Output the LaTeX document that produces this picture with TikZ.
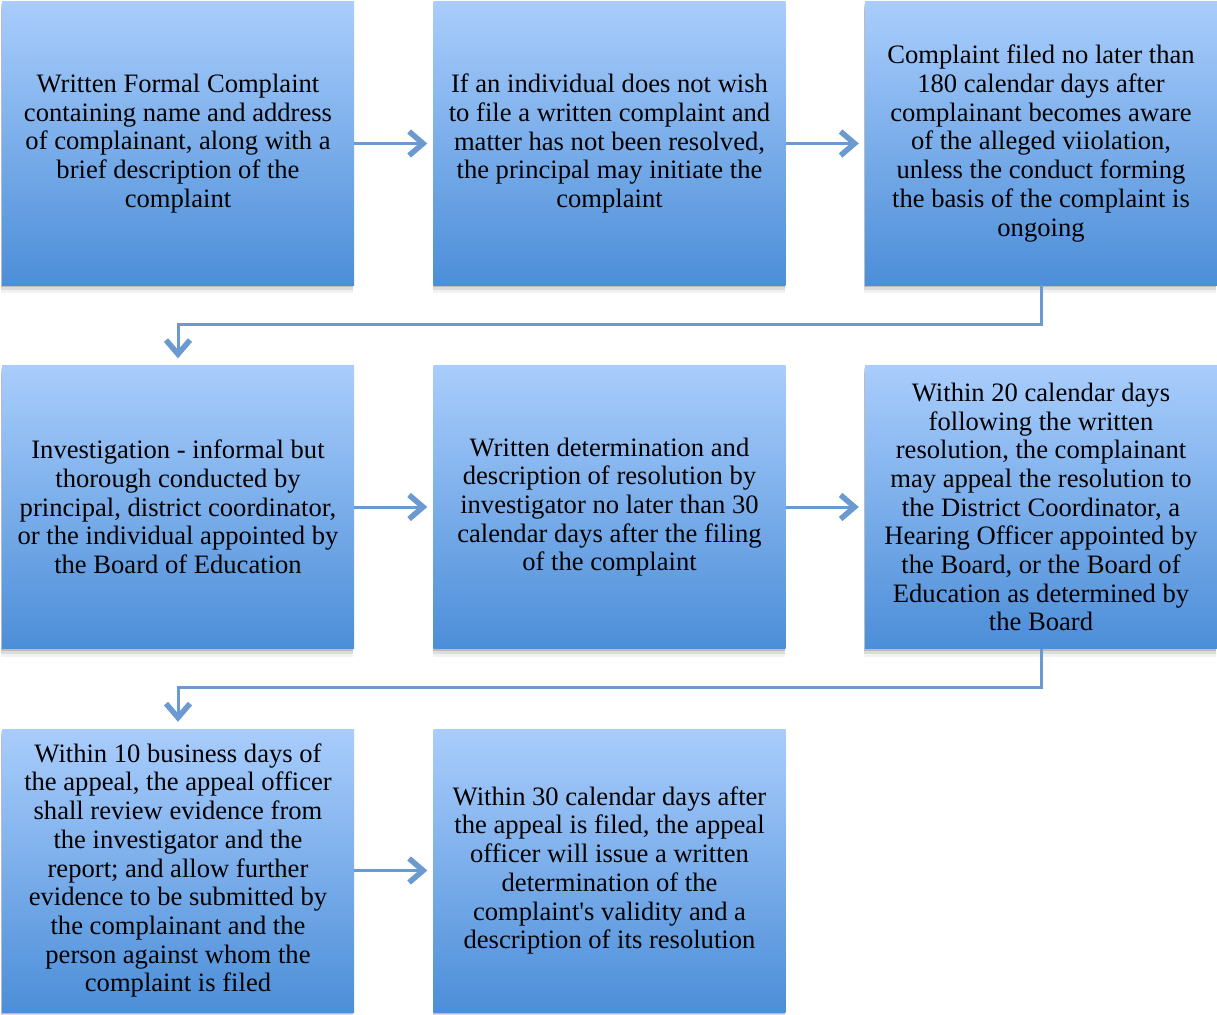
\documentclass[tikz,border=0pt]{standalone}
\usepackage{fontspec}
\setmainfont{Liberation Serif}[Ligatures=TeXOff]
\usetikzlibrary{arrows.meta}
\definecolor{boxtop}{HTML}{A9CDFC}
\definecolor{boxbot}{HTML}{4C8ED8}
\definecolor{arrowc}{HTML}{6A9AD0}
\tikzset{
  box/.style={rectangle, minimum width=352pt, minimum height=283pt, inner sep=0pt,
    top color=boxtop, bottom color=boxbot, draw=none,
    align=center, font=\fontsize{26.6}{28.7}\selectfont, text=black,
    preaction={fill=black,opacity=0.14,transform canvas={xshift=-1pt,yshift=-2pt}},
    preaction={fill=black,opacity=0.09,transform canvas={xshift=-1pt,yshift=-5pt}},
    preaction={fill=black,opacity=0.05,transform canvas={xshift=-1pt,yshift=-8pt}}},
  flow/.style={draw=arrowc, line width=3pt,
    -{Straight Barb[length=14pt,width=24pt,line width=5.5pt]}}
}
\begin{document}
\begin{tikzpicture}[x=1pt,y=-1pt]
\useasboundingbox[fill=white] (0,0) rectangle (1217,1014);
\node[box] (b1) at (178,143.5) {Written Formal Complaint\\containing name and address\\of complainant, along with a\\brief description of the\\complaint};
\node[box] (b2) at (609.5,143.5) {If an individual does not wish\\to file a written complaint and\\matter has not been resolved,\\the principal may initiate the\\complaint};
\node[box] (b3) at (1041,143.5) {Complaint filed no later than\\180 calendar days after\\complainant becomes aware\\of the alleged viiolation,\\unless the conduct forming\\the basis of the complaint is\\ongoing};
\node[box] (b4) at (178,507) {Investigation - informal but\\thorough conducted by\\principal, district coordinator,\\or the individual appointed by\\the Board of Education};
\node[box] (b5) at (609.5,507) {Written determination and\\description of resolution by\\investigator no later than 30\\calendar days after the filing\\of the complaint};
\node[box] (b6) at (1041,507) {Within 20 calendar days\\following the written\\resolution, the complainant\\may appeal the resolution to\\the District Coordinator, a\\Hearing Officer appointed by\\the Board, or the Board of\\Education as determined by\\the Board};
\node[box] (b7) at (178,870.5) {Within 10 business days of\\the appeal, the appeal officer\\shall review evidence from\\the investigator and the\\report; and allow further\\evidence to be submitted by\\the complainant and the\\person against whom the\\complaint is filed};
\node[box] (b8) at (609.5,870.5) {Within 30 calendar days after\\the appeal is filed, the appeal\\officer will issue a written\\determination of the\\complaint's validity and a\\description of its resolution};
\draw[flow, shorten >=6pt] (b1.east) -- (b2.west);
\draw[flow, shorten >=6pt] (b2.east) -- (b3.west);
\draw[flow, shorten >=6pt] (b4.east) -- (b5.west);
\draw[flow, shorten >=6pt] (b5.east) -- (b6.west);
\draw[flow, shorten >=6pt] (b7.east) -- (b8.west);
\draw[flow, shorten >=7pt] (b3.south) -- ++(0,39) -| (b4.north);
\draw[flow, shorten >=7pt] (b6.south) -- ++(0,39) -| (b7.north);
\end{tikzpicture}
\end{document}
